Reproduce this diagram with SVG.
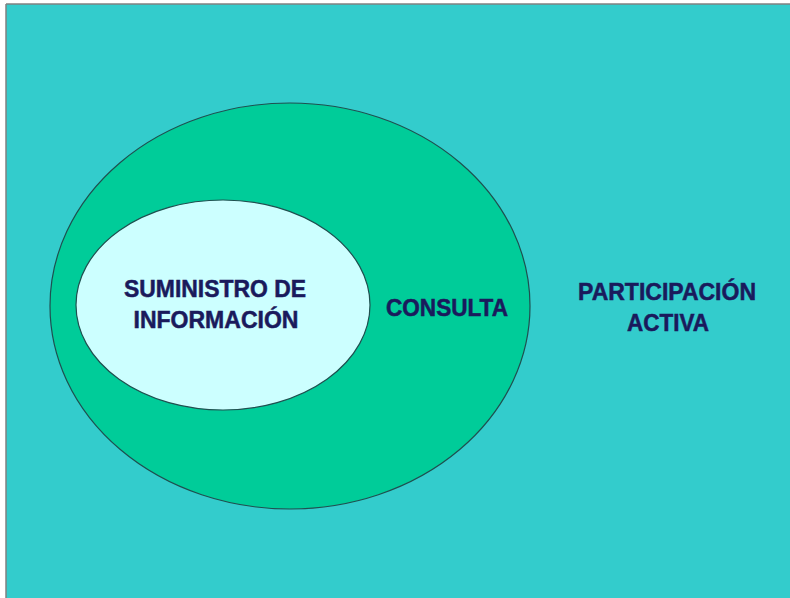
<svg xmlns="http://www.w3.org/2000/svg" width="790" height="598" viewBox="0 0 790 598">
<style>
.lbl{font-family:"Liberation Sans",Arial,sans-serif;font-weight:bold;font-size:23px;fill:#1a1a5c;stroke:#1a1a5c;stroke-width:0.5;text-anchor:middle}
.ell{stroke:#1f4f4f;stroke-width:1.2}
</style>
<rect x="0" y="0" width="790" height="598" fill="#ffffff"/>
<rect x="6" y="4" width="784" height="594" fill="#33cccc"/>
<line x1="6" y1="4" x2="790" y2="4" stroke="#808080" stroke-width="1.5"/>
<line x1="6" y1="4" x2="6" y2="598" stroke="#808080" stroke-width="1.5"/>
<g id="participacion">
<text class="lbl" x="667" y="300" textLength="178" lengthAdjust="spacingAndGlyphs">PARTICIPACIÓN</text>
<text class="lbl" x="668" y="331" textLength="82" lengthAdjust="spacingAndGlyphs">ACTIVA</text>
</g>
<g id="consulta">
<ellipse class="ell" cx="290" cy="306" rx="240" ry="203" fill="#00cc99"/>
<text class="lbl" x="447" y="316" textLength="122" lengthAdjust="spacingAndGlyphs">CONSULTA</text>
</g>
<g id="suministro">
<ellipse class="ell" cx="223" cy="305" rx="147" ry="105" fill="#ccffff"/>
<text class="lbl" x="215" y="297" textLength="182" lengthAdjust="spacingAndGlyphs">SUMINISTRO DE</text>
<text class="lbl" x="216" y="328" textLength="165" lengthAdjust="spacingAndGlyphs">INFORMACIÓN</text>
</g>
<g id="connectors"/>
</svg>
